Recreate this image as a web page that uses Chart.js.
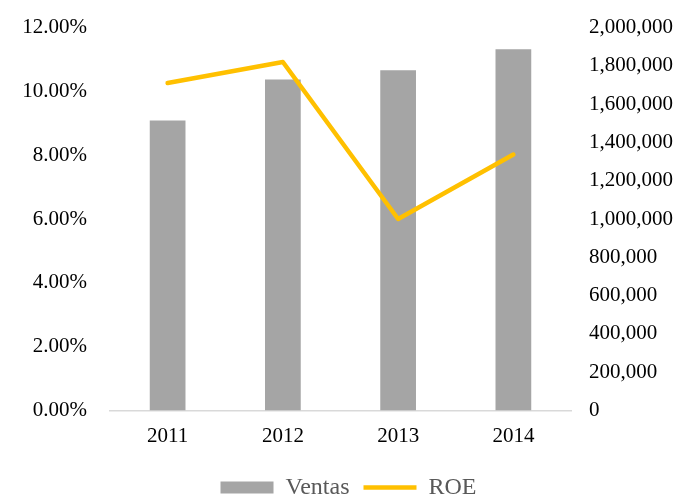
<!DOCTYPE html>
<html>

<head>
    <title>Ventas y ROE</title>
    <style>
        html, body {
            margin: 0;
            padding: 0;
            background: #fff;
        }
        #canvas-container {
            position: relative;
            width: 677px;
            height: 495px;
        }
    </style>
    <script src="https://cdn.jsdelivr.net/npm/chart.js"></script>
</head>

<body>
    <div id="canvas-container">
        <canvas id="myChart"></canvas>
    </div>

    <script>
        // Years on the x axis
        const years = ['2011', '2012', '2013', '2014'];

        // Sales (right axis)
        const ventas = [1515000, 1728000, 1777000, 1886000];

        // ROE in percent (left axis)
        const roe = [10.26, 10.92, 6.00, 8.02];

        const serif = 'Liberation Serif, Times New Roman, serif';

        const ctx = document.getElementById('myChart').getContext('2d');

        // fixed axis widths, no extra label padding around the plot
        function fixWidth(w) {
            return (scale) => {
                scale.width = w;
                scale.paddingTop = 0;
                scale.paddingBottom = 0;
            };
        }

        // nudge the legend a bit right, like the original
        const legendShift = {
            id: 'legendShift',
            afterLayout(chart) {
                if (chart.legend) {
                    chart.legend.left += 10;
                    chart.legend.right += 10;
                }
            }
        };

        const myChart = new Chart(ctx, {
            type: 'bar',
            data: {
                labels: years,
                datasets: [{
                    type: 'bar',
                    label: 'Ventas',
                    data: ventas,
                    yAxisID: 'y1',
                    backgroundColor: '#a5a5a5',
                    barPercentage: 0.62,
                    categoryPercentage: 0.5,
                    pointStyle: 'rect',
                    order: 1
                }, {
                    type: 'line',
                    label: 'ROE',
                    data: roe,
                    yAxisID: 'y',
                    borderColor: '#ffc000',
                    backgroundColor: '#ffc000',
                    borderWidth: 4.5,
                    borderCapStyle: 'round',
                    borderJoinStyle: 'round',
                    pointRadius: 0,
                    pointStyle: 'line',
                    tension: 0,
                    order: 0
                }]
            },
            options: {
                responsive: true,
                maintainAspectRatio: false,
                animation: false,
                layout: {
                    // negative bottom pulls the legend down to the canvas edge
                    padding: { top: 27.5, bottom: -14.5, left: 0, right: 0 }
                },
                scales: {
                    x: {
                        grid: { display: false, drawTicks: false },
                        border: { display: true, color: '#d9d9d9', width: 1.5 },
                        ticks: {
                            color: '#000',
                            padding: 13,
                            font: { family: serif, size: 21 }
                        },
                        afterFit: (scale) => {
                            scale.height = 51;
                            scale.paddingLeft = 0;
                            scale.paddingRight = 0;
                        }
                    },
                    y: {
                        position: 'left',
                        min: 0,
                        max: 12,
                        grid: { display: false, drawTicks: false },
                        border: { display: false },
                        ticks: {
                            stepSize: 2,
                            color: '#000',
                            padding: 23,
                            font: { family: serif, size: 21 },
                            callback: (v) => v.toFixed(2) + '%'
                        },
                        afterFit: fixWidth(110)
                    },
                    y1: {
                        position: 'right',
                        min: 0,
                        max: 2000000,
                        grid: { display: false, drawTicks: false },
                        border: { display: false },
                        ticks: {
                            stepSize: 200000,
                            color: '#000',
                            padding: 18,
                            font: { family: serif, size: 21 },
                            callback: (v) => v.toLocaleString('en-US')
                        },
                        afterFit: fixWidth(106)
                    }
                },
                plugins: {
                    tooltip: { enabled: false },
                    legend: {
                        position: 'bottom',
                        labels: {
                            usePointStyle: true,
                            pointStyleWidth: 53,
                            boxHeight: 12,
                            padding: 14,
                            color: '#595959',
                            font: { family: serif, size: 24 },
                            sort: (a, b) => a.datasetIndex - b.datasetIndex
                        }
                    }
                }
            },
            plugins: [legendShift]
        });
    </script>
</body>

</html>
